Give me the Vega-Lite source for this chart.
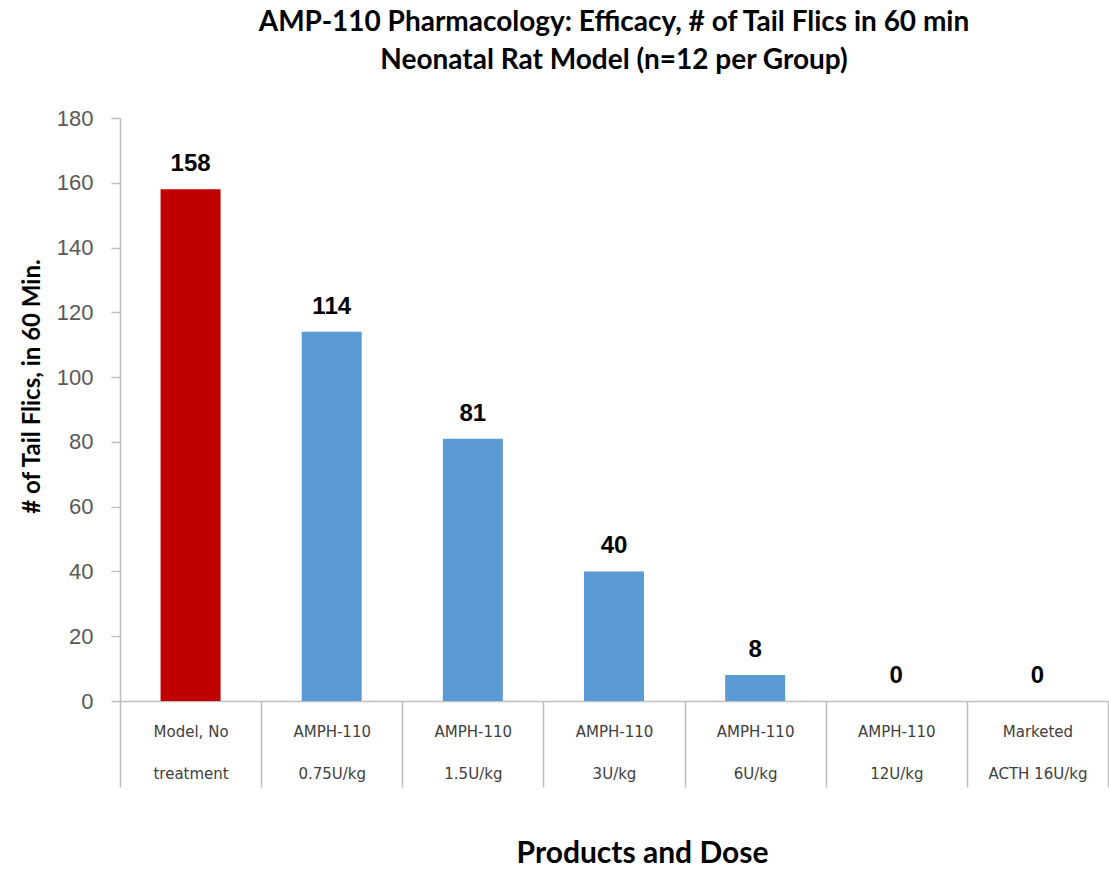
{
  "$schema": "https://vega.github.io/schema/vega-lite/v6.json",
  "autosize": {"type": "none"},
  "padding": {"left": 120, "top": 118, "right": 1, "bottom": 168},
  "width": 988,
  "height": 583,
  "background": "white",
  "title": {
    "text": ["AMP-110 Pharmacology: Efficacy, # of Tail Flics in 60 min", "Neonatal Rat Model (n=12 per Group)"],
    "font": "Lato",
    "fontSize": 28,
    "fontWeight": "bold",
    "color": "#000000",
    "lineHeight": 38,
    "anchor": "middle",
    "offset": 32
  },
  "data": {
    "values": [
      {"group": "Model, No treatment", "flicks": 158, "kind": "model"},
      {"group": "AMPH-110 0.75U/kg", "flicks": 114, "kind": "drug"},
      {"group": "AMPH-110 1.5U/kg", "flicks": 81, "kind": "drug"},
      {"group": "AMPH-110 3U/kg", "flicks": 40, "kind": "drug"},
      {"group": "AMPH-110 6U/kg", "flicks": 8, "kind": "drug"},
      {"group": "AMPH-110 12U/kg", "flicks": 0, "kind": "drug"},
      {"group": "Marketed ACTH 16U/kg", "flicks": 0, "kind": "drug"}
    ]
  },
  "encoding": {
    "x": {
      "field": "group",
      "type": "nominal",
      "sort": null,
      "scale": {"paddingInner": 0, "paddingOuter": 0},
      "axis": {
        "title": "Products and Dose",
        "titleFont": "Lato",
        "titleFontSize": 30,
        "titleFontWeight": "bold",
        "titleColor": "#000000",
        "titleX": 522,
        "titleY": 152,
        "titleBaseline": "middle",
        "titleAlign": "center",
        "labelAngle": 0,
        "labelAlign": "center",
        "labelExpr": "datum.value == 'Model, No treatment' ? ['Model, No', 'treatment'] : datum.value == 'AMPH-110 0.75U/kg' ? ['AMPH-110', '0.75U/kg'] : datum.value == 'AMPH-110 1.5U/kg' ? ['AMPH-110', '1.5U/kg'] : datum.value == 'AMPH-110 3U/kg' ? ['AMPH-110', '3U/kg'] : datum.value == 'AMPH-110 6U/kg' ? ['AMPH-110', '6U/kg'] : datum.value == 'AMPH-110 12U/kg' ? ['AMPH-110', '12U/kg'] : datum.value == 'Marketed ACTH 16U/kg' ? ['Marketed', 'ACTH 16U/kg'] : datum.label",
        "labelFont": "DejaVu Sans",
        "labelFontSize": 15,
        "labelColor": "#404040",
        "labelLineHeight": 42,
        "labelBaseline": "middle",
        "labelPadding": -56,
        "tickBand": "extent",
        "tickSize": 86,
        "tickColor": "#bfbfbf",
        "tickWidth": 1.5,
        "domainColor": "#bfbfbf",
        "domainWidth": 1.5
      }
    },
    "y": {
      "field": "flicks",
      "type": "quantitative",
      "scale": {"domain": [0, 180]},
      "axis": {
        "title": "# of Tail Flics, in 60 Min.",
        "titleFont": "Lato",
        "titleFontSize": 24,
        "titleFontWeight": "bold",
        "titleColor": "#000000",
        "titleAngle": -90,
        "titleX": -88,
        "titleY": 268,
        "titleAlign": "center",
        "titleBaseline": "middle",
        "values": [0, 20, 40, 60, 80, 100, 120, 140, 160, 180],
        "labelFont": "Liberation Sans",
        "labelFontSize": 22,
        "labelColor": "#595959",
        "labelPadding": 18,
        "tickSize": 9,
        "tickColor": "#bfbfbf",
        "tickWidth": 1.5,
        "domainColor": "#bfbfbf",
        "domainWidth": 1.5,
        "grid": false
      }
    }
  },
  "layer": [
    {
      "mark": {"type": "bar", "width": {"band": 0.425}},
      "encoding": {
        "color": {
          "field": "kind",
          "type": "nominal",
          "scale": {"domain": ["model", "drug"], "range": ["#C00000", "#5B9BD5"]},
          "legend": null
        }
      }
    },
    {
      "mark": {"type": "text", "baseline": "alphabetic", "dy": -18, "font": "Liberation Sans", "fontSize": 24, "fontWeight": "bold", "color": "#000000"},
      "encoding": {"text": {"field": "flicks", "type": "quantitative"}}
    }
  ],
  "config": {"view": {"stroke": null}}
}
